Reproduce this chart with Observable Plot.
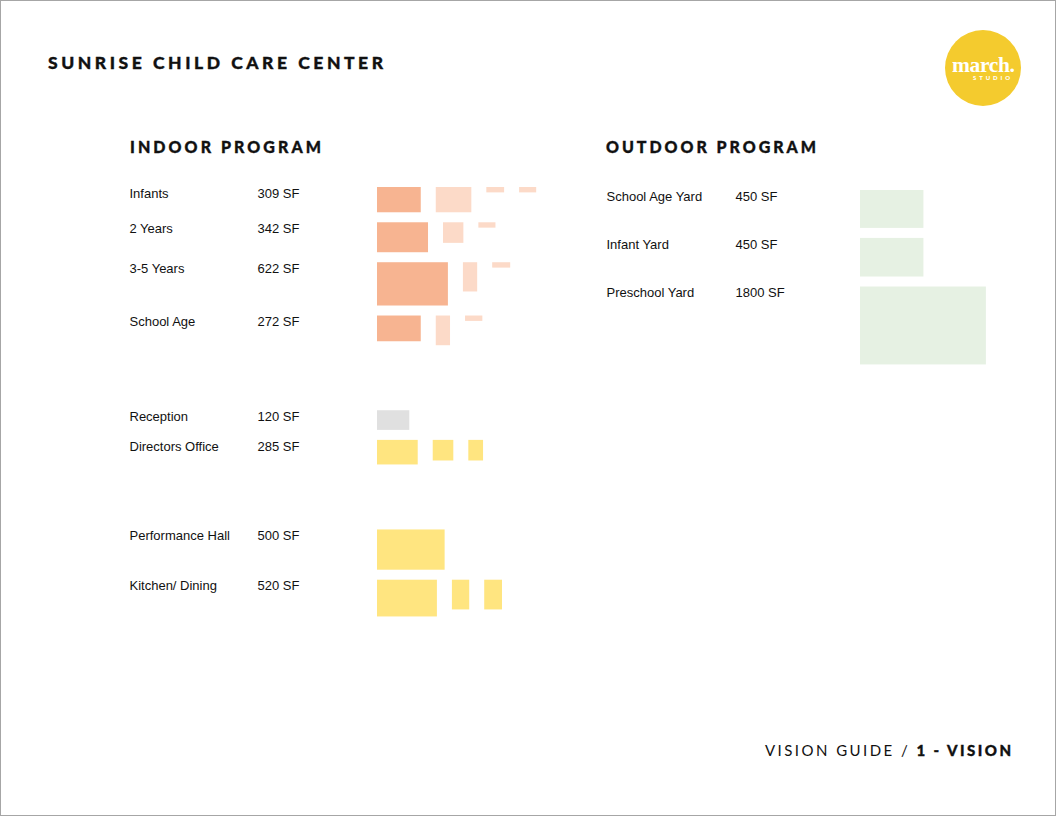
<!DOCTYPE html>
<html>
<head>
<meta charset="utf-8">
<script src="https://cdn.jsdelivr.net/npm/d3@7"></script>
<script src="https://cdn.jsdelivr.net/npm/@observablehq/plot@0.6"></script>
<style>
  html, body { margin: 0; padding: 0; background: #fff; }
  #page { position: relative; width: 1056px; height: 816px; overflow: hidden; background: #fff; }
  #frame { position: absolute; left: 0; top: 0; width: 1056px; height: 816px; box-sizing: border-box; border: 1px solid #a6a6a6; pointer-events: none; }
  #chart { position: absolute; left: 0; top: 0; }
  .t { position: absolute; white-space: nowrap; line-height: 1; display: inline-block; color: #111; font-family: Lato, "Noto Sans", sans-serif; }
  .blk { font-weight: 900; -webkit-text-stroke: 0.35px #111; }
  .reg { font-weight: 400; }
  #logo { position: absolute; left: 945px; top: 30px; width: 76px; height: 76px; border-radius: 50%; background: #F4CB2E; }
  #march { color: #fff; font-family: "Liberation Serif", serif; font-weight: 700; line-height: 0.8; }
  #studio { color: #fff; font-weight: 900; line-height: 0.8; }
</style>
</head>
<body>
<div id="page">
  <div id="chart"></div>
  <div id="logo"></div>
  <div class="t blk" id="title">SUNRISE CHILD CARE CENTER</div>
  <div class="t blk" id="hIn">INDOOR PROGRAM</div>
  <div class="t blk" id="hOut">OUTDOOR PROGRAM</div>
  <div class="t" id="march">march.</div>
  <div class="t" id="studio">STUDIO</div>
  <div class="t" id="footer"><span class="reg">VISION GUIDE / </span><span class="blk">1 - VISION</span></div>
  <div id="frame"></div>
</div>
<script>
// ---------------- data ----------------
const indoorRooms = ["Infants", "2 Years", "3-5 Years", "School Age", "Reception", "Directors Office", "Performance Hall", "Kitchen/ Dining"];
const indoorArea = [309, 342, 622, 272, 120, 285, 500, 520];
const indoorGroup = [1, 1, 1, 1, 2, 2, 3, 3];
const indoorUse = ["classroom", "classroom", "classroom", "classroom", "reception", "shared", "shared", "shared"];
// room block dimensions in feet (main room first, then support spaces)
const indoorWidthsFt = [[18.7, 15.2, 7.6, 7.3], [21.8, 8.7, 7.3], [30.3, 6.1, 7.7], [18.7, 6.1, 7.4], [13.8], [17.4, 8.8, 6.3], [28.9], [25.6, 7.4, 7.6]];
const indoorDepthsFt = [[10.8, 10.8, 2.3, 2.3], [12.8, 8.8, 2.3], [18.5, 12.5, 2.3], [11.0, 12.7, 2.3], [8.4], [10.5, 8.8, 8.8], [17.2], [15.7, 12.7, 12.7]];

const outdoorRooms = ["School Age Yard", "Infant Yard", "Preschool Yard"];
const outdoorArea = [450, 450, 1800];
const outdoorGroup = [1, 1, 1];
const outdoorUse = ["yard", "yard", "yard"];
const outdoorWidthsFt = [[27.1], [27.1], [53.8]];
const outdoorDepthsFt = [[16.2], [16.5], [33.3]];

const useKeys = ["classroom main", "classroom support", "reception", "shared", "yard"];
const useColors = ["#F7B491", "#FCDAC8", "#E0E0E0", "#FFE580", "#E6F1E3"];

// ---------------- layout (px) ----------------
const W = 1056, H = 816;
const S = 2.34;            // px per foot
const ROW_GAP = 10, GROUP_GAP = 65, COL_GAP = 15;

const rects = [], labels = [];
function layout(names, areas, groups, uses, widths, depths, blockX, topY, labelX, areaX) {
  let y = topY, prevBottom = null, prevGroup = null;
  names.forEach((name, i) => {
    if (prevBottom !== null) y = prevBottom + (groups[i] !== prevGroup ? GROUP_GAP : ROW_GAP);
    let x = blockX, bottom = y;
    widths[i].forEach((wf, j) => {
      const wpx = wf * S, hpx = depths[i][j] * S;
      let use = uses[i];
      if (use === "classroom") use = j === 0 ? "classroom main" : "classroom support";
      rects.push({x1: x / S, x2: (x + wpx) / S, y1: y / S, y2: (y + hpx) / S, use, room: name});
      x += wpx + COL_GAP;
      bottom = Math.max(bottom, y + hpx);
    });
    labels.push({x: labelX / S, y: (y + 6) / S, text: name});
    labels.push({x: areaX / S, y: (y + 6) / S, text: areas[i] + " SF"});
    prevBottom = bottom; prevGroup = groups[i];
  });
}
layout(indoorRooms, indoorArea, indoorGroup, indoorUse, indoorWidthsFt, indoorDepthsFt, 377, 187, 129, 257);
layout(outdoorRooms, outdoorArea, outdoorGroup, outdoorUse, outdoorWidthsFt, outdoorDepthsFt, 860, 190, 606, 735);

const chart = Plot.plot({
  width: W, height: H, margin: 0,
  x: {domain: [0, W / S], range: [0, W], axis: null},
  y: {domain: [0, H / S], range: [0, H], axis: null},
  color: {domain: useKeys, range: useColors},
  style: {fontFamily: '"Liberation Sans", Arial, sans-serif', fontSize: "13px", background: "transparent", color: "#111"},
  marks: [
    Plot.rect(rects, {x1: "x1", x2: "x2", y1: "y1", y2: "y2", fill: "use"}),
    Plot.text(labels, {x: "x", y: "y", text: "text", textAnchor: "start", fill: "#111", fontSize: 13})
  ]
});
document.getElementById("chart").appendChild(chart);

// ---------------- html text placement ----------------
function place(id, left, baseline, size, width, ascentRatio) {
  const el = document.getElementById(id);
  el.style.fontSize = size + "px";
  el.style.left = left + "px";
  el.style.top = (baseline - ascentRatio * size) + "px";
  el.style.letterSpacing = "0px";
  const w0 = el.getBoundingClientRect().width;
  const n = el.textContent.length;
  el.style.letterSpacing = ((width - w0) / (n - 1)) + "px";
}
const LATO = 0.887, LATO_08 = 0.787, LSERIF_08 = 0.7375;
place("title", 48, 70, 17.5, 335, LATO);
place("hIn", 130, 153, 16, 191, LATO);
place("hOut", 606, 153, 16, 210, LATO);
place("footer", 765, 756, 15, 246, LATO);
place("march", 952, 72.5, 21.5, 63, LSERIF_08);
place("studio", 973, 81, 6, 37, LATO_08);
</script>
</body>
</html>
